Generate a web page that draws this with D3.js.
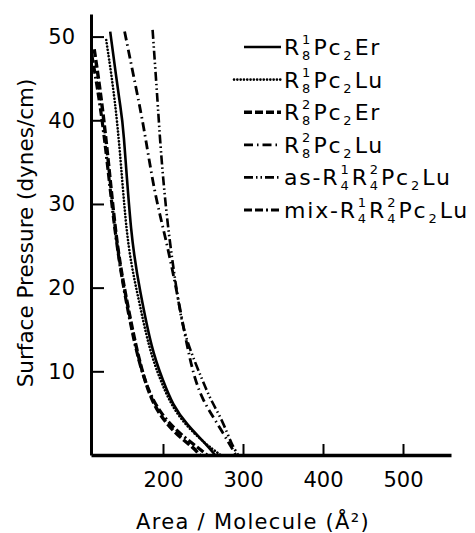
<!DOCTYPE html>
<html>
<head>
<meta charset="utf-8">
<script src="https://cdn.jsdelivr.net/npm/d3@7"></script>
<style>
  body { margin: 0; background: #fff; }
  text { font-family: "DejaVu Sans", sans-serif; fill: #000; }
</style>
</head>
<body>
<div id="chart"></div>
<script>
// isotherms: [area (Å²), pressure (dynes/cm)]
const r1Er = [[134,50.6],[147,41.2],[150,40],[160,25.7],[171,19.7],[186,12.5],[200,8.9],[212,6],[230,3.6],[255,1.2],[265,0]]
const r1Lu = [[129,49.6],[144,40],[154,25.7],[167,19.7],[183,12.5],[197,8.9],[210,6],[228,3.6],[252,1.4],[272,0]]
const r2Er = [[114,48.5],[127,40],[141,25.7],[152,19.7],[167,12.5],[177,9],[186,6.5],[200,4.2],[222,2],[237,1],[246,0]]
const r2Lu = [[152,50.6],[172,41.2],[178,38],[190,31],[204,25.7],[217,19.7],[231,12.5],[240,9],[250,6.5],[265,4.2],[284,1.2],[291,0]]
const asLu = [[187,50.8],[194,41.2],[196,38],[201,32],[208,25.7],[217,19.7],[224,15.5],[234,12.5],[249,9],[260,6.5],[274,4.2],[286,1.2],[294,0]]
const mixLu = [[111,47.8],[125,40],[139,27],[151,19.7],[165,13],[175,9.5],[187,6.5],[205,4],[228,2],[245,0.8],[255,0]]

const seriesNames = ['r1Er', 'r1Lu', 'r2Er', 'r2Lu', 'asLu', 'mixLu']
const seriesData = [r1Er, r1Lu, r2Er, r2Lu, asLu, mixLu]
const xTicks = [200, 300, 400, 500]
const yTicks = [10, 20, 30, 40, 50]

// legend label pieces: plain text, {sub}, or {sup, sub} stacked
const legendLabels = [
  ['R', {sup: '1', sub: '8'}, 'Pc', {sub: '2'}, 'Er'],
  ['R', {sup: '1', sub: '8'}, 'Pc', {sub: '2'}, 'Lu'],
  ['R', {sup: '2', sub: '8'}, 'Pc', {sub: '2'}, 'Er'],
  ['R', {sup: '2', sub: '8'}, 'Pc', {sub: '2'}, 'Lu'],
  ['as-R', {sup: '1', sub: '4'}, 'R', {sup: '2', sub: '4'}, 'Pc', {sub: '2'}, 'Lu'],
  ['mix-R', {sup: '1', sub: '4'}, 'R', {sup: '2', sub: '4'}, 'Pc', {sub: '2'}, 'Lu']
]

const styles = {
  r1Er: { dash: null, w: 2.6 },
  r1Lu: { dash: '0.1,3.2', w: 2.6, cap: 'round' },
  r2Er: { dash: '8,3', w: 3.4 },
  r2Lu: { dash: '9,4,1.5,4', w: 2.8 },
  asLu: { dash: '9,3,1.5,3,1.5,3', w: 2.6 },
  mixLu: { dash: '8,3,8,3,2,3', w: 3.2 }
}

const width = 475, height = 533

const svg = d3.select('#chart').append('svg')
  .attr('width', width)
  .attr('height', height)

const x = d3.scaleLinear().domain([110, 560]).range([91, 451])
const y = d3.scaleLinear().domain([0, 52.7]).range([455, 14])

// y axis
const yAxis = svg.append('g')
  .attr('transform', `translate(${x(110)},0)`)
  .call(d3.axisLeft(y).tickValues(yTicks).tickSizeInner(-13).tickSizeOuter(0).tickPadding(16))
yAxis.select('.domain').attr('stroke-width', 3)
yAxis.selectAll('.tick line').attr('stroke-width', 2)
yAxis.selectAll('.tick text').style('font-size', '21px')
yAxis.attr('font-family', null)

// x axis
const xAxis = svg.append('g')
  .attr('transform', `translate(0,${y(0)})`)
  .call(d3.axisBottom(x).tickValues(xTicks).tickSizeInner(-11).tickSizeOuter(0).tickPadding(17))
xAxis.select('.domain').attr('stroke-width', 3.5)
xAxis.selectAll('.tick line').attr('stroke-width', 2)
xAxis.selectAll('.tick text').style('font-size', '21px')
xAxis.attr('font-family', null)

// axis titles
svg.append('text')
  .attr('transform', 'translate(33,233) rotate(-90)')
  .attr('text-anchor', 'middle')
  .style('font-size', '21.5px')
  .text('Surface Pressure (dynes/cm)')

svg.append('text')
  .attr('x', 253)
  .attr('y', 529)
  .attr('text-anchor', 'middle')
  .style('font-size', '21px')
  .style('letter-spacing', '1.3px')
  .text('Area / Molecule (Å²)')

// curves
const line = d3.line()
  .x(d => x(d[0]))
  .y(d => y(d[1]))
  .curve(d3.curveBasis)

seriesData.forEach((data, i) => {
  const s = styles[seriesNames[i]]
  svg.append('path')
    .datum(data)
    .attr('d', line)
    .attr('fill', 'none')
    .attr('stroke', '#000')
    .attr('stroke-width', s.w)
    .attr('stroke-dasharray', s.dash)
    .attr('stroke-linecap', s.cap || 'butt')
})

// legend
const legend = svg.append('g')
legendLabels.forEach((parts, i) => {
  const s = styles[seriesNames[i]]
  const ly = 47 + i * 32.6
  legend.append('line')
    .attr('x1', seriesNames[i] === 'r1Lu' ? 234 : 244).attr('x2', 281)
    .attr('y1', ly).attr('y2', ly)
    .attr('stroke', '#000')
    .attr('stroke-width', s.w)
    .attr('stroke-dasharray', s.dash)
    .attr('stroke-linecap', s.cap || 'butt')

  let cx = 284
  const base = ly + 8
  parts.forEach(p => {
    if (typeof p === 'string') {
      const t = legend.append('text').attr('x', cx).attr('y', base)
        .style('font-size', '22px').style('letter-spacing', '1.8px').text(p)
      cx += t.node().getComputedTextLength()
    } else {
      let w = 0
      cx += 1
      if (p.sup) {
        const t = legend.append('text').attr('x', cx).attr('y', base - 11)
          .style('font-size', '13px').text(p.sup)
        w = t.node().getComputedTextLength()
      }
      const t2 = legend.append('text').attr('x', cx).attr('y', base + 5)
        .style('font-size', '13px').text(p.sub)
      w = Math.max(w, t2.node().getComputedTextLength())
      cx += w + 3
    }
  })
})
</script>
</body>
</html>
